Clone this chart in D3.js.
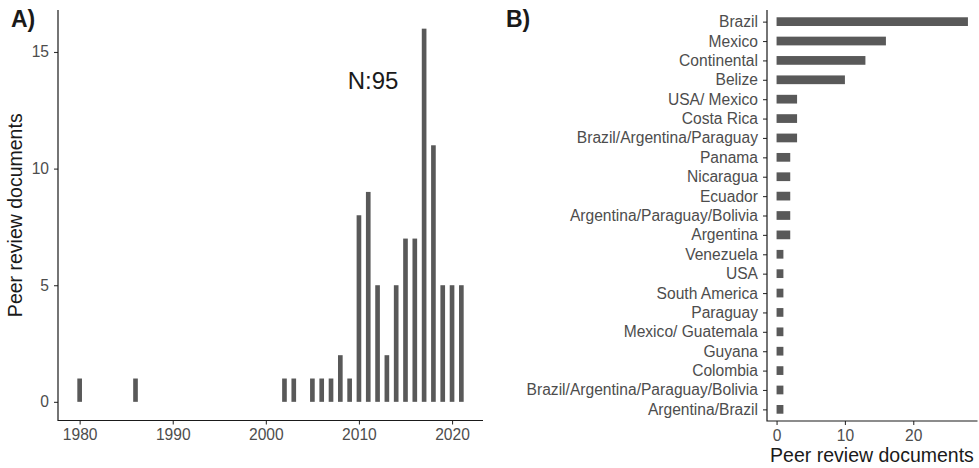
<!DOCTYPE html>
<html>
<head>
<meta charset="utf-8">
<script src="https://cdn.jsdelivr.net/npm/d3@7"></script>
<style>
  body { margin: 0; background: #fff; }
  svg { display: block; font-family: "Liberation Sans", Arial, sans-serif; }
</style>
</head>
<body>
<div class="canvas"></div>
<script>
// panel A: documents per year
const years  = [1980, 1986, 2002, 2003, 2005, 2006, 2007, 2008, 2009, 2010, 2011,
                2012, 2013, 2014, 2015, 2016, 2017, 2018, 2019, 2020, 2021]
const yearCounts = [1, 1, 1, 1, 1, 1, 1, 2, 1, 8, 9, 5, 2, 5, 7, 7, 16, 11, 5, 5, 5]
const yearTicks  = [1980, 1990, 2000, 2010, 2020]
const countTicks = [0, 5, 10, 15]

// panel B: documents per country
const countries = ["Brazil", "Mexico", "Continental", "Belize", "USA/ Mexico", "Costa Rica",
                   "Brazil/Argentina/Paraguay", "Panama", "Nicaragua", "Ecuador",
                   "Argentina/Paraguay/Bolivia", "Argentina", "Venezuela", "USA",
                   "South America", "Paraguay", "Mexico/ Guatemala", "Guyana", "Colombia",
                   "Brazil/Argentina/Paraguay/Bolivia", "Argentina/Brazil"]
const countryCounts = [28, 16, 13, 10, 3, 3, 3, 2, 2, 2, 2, 2, 1, 1, 1, 1, 1, 1, 1, 1, 1]
const countryTicks  = [0, 10, 20]

const W = 979, H = 468
const barFill = "#595959"
const tickText = "#4d4d4d"
const font = '"Liberation Sans", Arial, sans-serif'

const svg = d3.select(".canvas").append("svg").attr("width", W).attr("height", H)

// d3.axis puts its own font on the group, swap it for ours
const styleAxis = (g) => {
  g.attr("font-family", font).attr("font-size", 15.6)
  g.select(".domain").remove()
  g.selectAll(".tick line").attr("stroke", "#333").attr("stroke-width", 1.1)
  g.selectAll(".tick text").attr("fill", tickText)
}

// ---------- panel A ----------
const dataA = years.map((y, i) => ({ year: y, n: yearCounts[i] }))
const xA = d3.scaleLinear().domain([1977.675, 2023.325]).range([58, 483])
const yA = d3.scaleLinear().domain([-0.8, 16.8]).range([420.5, 10])

const gA = svg.append("g")

gA.selectAll("rect.bar").data(dataA).enter().append("rect")
  .attr("class", "bar")
  .attr("x", d => xA(d.year - 0.25))
  .attr("width", d => xA(d.year + 0.25) - xA(d.year - 0.25))
  .attr("y", d => yA(d.n))
  .attr("height", d => yA(0) - yA(d.n))
  .attr("fill", barFill)

gA.append("g").attr("transform", `translate(0,${yA.range()[0]})`)
  .call(d3.axisBottom(xA).tickValues(yearTicks).tickFormat(d3.format("d")).tickSize(4).tickPadding(4.5))
  .call(styleAxis)
gA.append("g").attr("transform", `translate(${xA.range()[0]},0)`)
  .call(d3.axisLeft(yA).tickValues(countTicks).tickSize(4).tickPadding(5))
  .call(styleAxis)

// axis lines
gA.append("path")
  .attr("d", `M${xA.range()[0]},${yA.range()[1]}V${yA.range()[0]}H${xA.range()[1]}`)
  .attr("fill", "none").attr("stroke", "#1a1a1a").attr("stroke-width", 1.2)

gA.append("text")
  .attr("transform", `translate(22,${(yA.range()[0] + yA.range()[1]) / 2}) rotate(-90)`)
  .attr("text-anchor", "middle")
  .attr("fill", "#1a1a1a")
  .style("font-size", "19.5px")
  .text("Peer review documents")

gA.append("text")
  .attr("x", 373).attr("y", 89)
  .attr("text-anchor", "middle")
  .attr("fill", "#1a1a1a")
  .style("font-size", "24px")
  .text("N:" + d3.sum(yearCounts))

gA.append("text")
  .attr("x", 11).attr("y", 27)
  .attr("fill", "#1a1a1a")
  .style("font-size", "23px").style("font-weight", "bold")
  .text("A)")

// ---------- panel B ----------
const dataB = countries.map((c, i) => ({ name: c, n: countryCounts[i] }))
const xB = d3.scaleLinear().domain([-1.4, 29.4]).range([767, 977.5])
const yB = d3.scalePoint().domain(countries).range([10, 421]).padding(0.6)
const barH = yB.step() * 0.45

const gB = svg.append("g")

gB.selectAll("rect.bar").data(dataB).enter().append("rect")
  .attr("class", "bar")
  .attr("x", xB(0))
  .attr("width", d => xB(d.n) - xB(0))
  .attr("y", d => yB(d.name) - barH / 2)
  .attr("height", barH)
  .attr("fill", barFill)

gB.append("g").attr("transform", `translate(0,${yB.range()[1]})`)
  .call(d3.axisBottom(xB).tickValues(countryTicks).tickSize(4).tickPadding(4.5))
  .call(styleAxis)
gB.append("g").attr("transform", `translate(${xB.range()[0]},0)`)
  .call(d3.axisLeft(yB).tickSize(4).tickPadding(5))
  .call(styleAxis)

gB.append("path")
  .attr("d", `M${xB.range()[0]},${yB.range()[0]}V${yB.range()[1]}H${xB.range()[1]}`)
  .attr("fill", "none").attr("stroke", "#1a1a1a").attr("stroke-width", 1.2)

gB.append("text")
  .attr("x", 872).attr("y", 462)
  .attr("text-anchor", "middle")
  .attr("fill", "#1a1a1a")
  .style("font-size", "19.5px")
  .text("Peer review documents")

gB.append("text")
  .attr("x", 506).attr("y", 27)
  .attr("fill", "#1a1a1a")
  .style("font-size", "23px").style("font-weight", "bold")
  .text("B)")
</script>
</body>
</html>
